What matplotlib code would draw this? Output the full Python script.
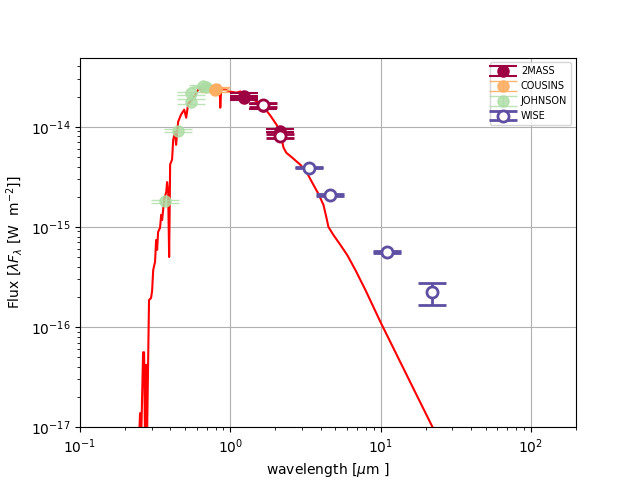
import matplotlib
matplotlib.use("Agg")
import matplotlib.pyplot as plt

# model spectrum (wavelength in micron, lambda*F_lambda in W m^-2)
model_wave = [0.247, 0.251, 0.255, 0.263, 0.267, 0.271, 0.275, 0.279, 0.288, 0.297,
              0.302, 0.307, 0.316, 0.321, 0.326, 0.331, 0.341, 0.347, 0.352, 0.363,
              0.375, 0.380, 0.386, 0.392, 0.398, 0.410, 0.417, 0.430, 0.436, 0.450,
              0.470, 0.494, 0.509, 0.525, 0.558, 0.584, 0.612, 0.630, 0.650, 0.681,
              0.736, 0.782, 0.832, 0.850, 0.858, 0.871, 0.926, 1.00, 1.10, 1.17,
              1.28, 1.40, 1.54, 1.68, 1.85, 2.03, 2.15, 2.26, 2.36, 2.59,
              2.93, 3.21, 3.52, 3.86, 4.17, 4.37, 4.50, 4.86, 5.41, 6.02,
              6.81, 7.94, 10.0, 22.2, 60.0, 200.0]
model_flux = [7.4e-18, 1.38e-17, 7.0e-18, 5.6e-17, 5.6e-17, 7.0e-18, 4.2e-17, 7.0e-18, 1.86e-16, 1.95e-16,
              2.3e-16, 3.7e-16, 4.5e-16, 7.4e-16, 5.9e-16, 8.9e-16, 9.8e-16, 1.32e-15, 1.17e-15, 1.86e-15,
              2.24e-15, 2.8e-15, 2.3e-15, 5.0e-16, 4.2e-15, 4.7e-15, 7.4e-15, 8.9e-15, 6.6e-15, 1.12e-14,
              1.32e-14, 1.48e-14, 1.23e-14, 1.7e-14, 1.86e-14, 2.09e-14, 2.34e-14, 2.45e-14, 2.24e-14, 2.5e-14,
              2.57e-14, 2.45e-14, 2.57e-14, 2.57e-14, 1.55e-14, 2.45e-14, 2.34e-14, 2.24e-14, 2.19e-14, 2.25e-14,
              2.04e-14, 1.9e-14, 1.74e-14, 1.55e-14, 1.29e-14, 1.05e-14, 8.9e-15, 6.2e-15, 5.5e-15, 4.9e-15,
              4.17e-15, 3.55e-15, 2.75e-15, 2.14e-15, 1.66e-15, 1.23e-15, 1.0e-15, 8.3e-16, 6.6e-16, 5.2e-16,
              3.7e-16, 2.34e-16, 1.12e-16, 1.0e-17, 4.6e-19, 1.24e-20]

# photometry
johnson_wave = [0.366, 0.450, 0.545, 0.550, 0.660, 0.690]
johnson_flux = [1.8e-15, 9.1e-15, 2.15e-14, 1.78e-14, 2.55e-14, 2.5e-14]
johnson_err = [0.06e-15, 0.3e-15, 0.08e-14, 0.1e-14, 0.08e-14, 0.08e-14]

cousins_wave = [0.79, 0.80]
cousins_flux = [2.34e-14, 2.4e-14]
cousins_err = [0.1e-14, 0.08e-14]

twomass_wave = [1.235, 1.235, 1.662, 2.159]
twomass_flux = [2.05e-14, 1.93e-14, 1.6e-14, 9.1e-15]
twomass_err = [0.1e-14, 0.08e-14, 0.08e-14, 0.3e-15]
twomass_open_wave = [1.662, 2.159]
twomass_open_flux = [1.66e-14, 8.1e-15]
twomass_open_err = [0.08e-14, 0.3e-15]

wise_wave = [3.35, 4.6, 11.1, 22.1]
wise_flux = [3.89e-15, 2.09e-15, 5.6e-16, 2.24e-16]
wise_err_lo = [0.05e-15, 0.04e-15, 0.1e-16, 0.58e-16]
wise_err_hi = [0.05e-15, 0.04e-15, 0.1e-16, 0.51e-16]

c_2mass = '#9e0142'
c_cous = '#fdae61'
c_john = '#abdda4'
c_wise = '#5e4fa2'

fig, ax = plt.subplots(figsize=(6.4, 4.8), dpi=100)
ax.plot(model_wave, model_flux, color='red', lw=1.5, zorder=2)

ax.errorbar(johnson_wave, johnson_flux, yerr=johnson_err, fmt='o', color=c_john, ms=8,
            capsize=10, elinewidth=1, capthick=1, alpha=0.8, label='JOHNSON', zorder=3)
ax.errorbar(cousins_wave, cousins_flux, yerr=cousins_err, fmt='o', color=c_cous, ms=8,
            capsize=10, elinewidth=1, capthick=1, alpha=0.9, label='COUSINS', zorder=3)
ax.errorbar(twomass_wave, twomass_flux, yerr=twomass_err, fmt='o', color=c_2mass, ms=8,
            capsize=10, elinewidth=1, capthick=1.5, label='2MASS', zorder=3)
ax.errorbar(twomass_open_wave, twomass_open_flux, yerr=twomass_open_err, fmt='o', color=c_2mass,
            mfc='white', mec=c_2mass, mew=2, ms=8, capsize=10, elinewidth=2, capthick=3, zorder=4)
ax.errorbar(wise_wave, wise_flux, yerr=[wise_err_lo, wise_err_hi], fmt='o', color=c_wise,
            mfc='white', mec=c_wise, mew=2, ms=8, capsize=10, elinewidth=2, capthick=2,
            label='WISE', zorder=4)

ax.set_xscale('log')
ax.set_yscale('log')
ax.set_xlim(0.1, 200)
ax.set_ylim(1e-17, 4.9e-14)
ax.grid(True)
ax.set_xlabel(r'wavelength [$\mu$m ]')
ax.set_ylabel(r'Flux [$\lambda F_\lambda$ [W  m$^{-2}$]]')

handles, labels = ax.get_legend_handles_labels()
order = ['2MASS', 'COUSINS', 'JOHNSON', 'WISE']
hd = dict(zip(labels, handles))
ax.legend([hd[k] for k in order], order, loc='upper right', fontsize=7)

fig.savefig('out.png', dpi=100)
